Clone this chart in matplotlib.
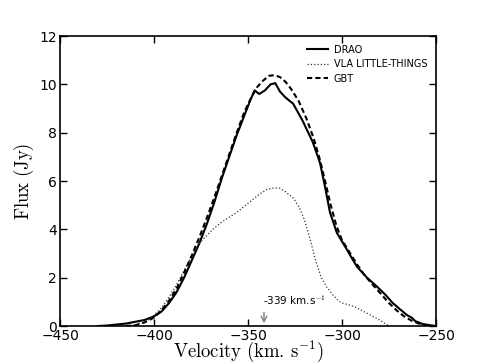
import numpy as np
import matplotlib
matplotlib.use("Agg")
import matplotlib.pyplot as plt

plt.rcParams['mathtext.fontset'] = 'cm'

# DRAO profile (solid)
drao_v = [-430, -425, -415, -405, -400, -396, -392, -388, -384, -380, -376, -372,
          -368, -364, -360, -356, -352, -349, -346.5, -344, -341, -338, -335.5,
          -333, -330, -326, -321, -315.5, -311.7, -309, -306.4, -302.7, -297.3,
          -294.7, -292, -286.7, -281, -277, -273, -270, -265.4, -263, -261,
          -257, -252, -250]
drao_f = [0.0, 0.02, 0.1, 0.25, 0.4, 0.6, 0.95, 1.4, 2.0, 2.7, 3.4, 4.2,
          5.1, 6.1, 7.0, 7.9, 8.7, 9.3, 9.75, 9.6, 9.75, 10.0, 10.05,
          9.7, 9.45, 9.2, 8.5, 7.6, 6.75, 5.75, 4.7, 3.85, 3.15,
          2.8, 2.45, 2.0, 1.6, 1.3, 0.95, 0.75, 0.45, 0.35, 0.2,
          0.08, 0.02, 0.0]

# VLA LITTLE-THINGS profile (dotted)
vla_v = [-415, -410, -404, -400, -396, -392, -388, -384, -380, -376, -372, -368,
         -364, -360, -356, -352, -348, -344, -340, -336, -333, -330, -326, -323,
         -320, -317, -314, -311, -308, -305, -302, -300, -296, -292, -288, -284,
         -280, -276, -275]
vla_f = [0.0, 0.05, 0.2, 0.45, 0.75, 1.2, 1.7, 2.3, 2.9, 3.4, 3.75, 4.05,
         4.3, 4.5, 4.7, 4.95, 5.2, 5.45, 5.65, 5.72, 5.7, 5.55, 5.3, 4.95,
         4.4, 3.6, 2.7, 2.0, 1.6, 1.3, 1.05, 0.95, 0.87, 0.75, 0.58, 0.42,
         0.25, 0.05, 0.0]

# GBT profile (dashed)
gbt_v = [-415, -410, -405, -400, -396, -392, -388, -384, -380, -376, -372, -368,
         -364, -360, -356, -352, -348, -345, -342, -339, -336, -333, -330, -327,
         -323, -319, -315, -312, -309, -306, -303, -300, -296, -292, -288, -283,
         -279, -275, -271, -267, -263, -259, -255, -252]
gbt_f = [0.0, 0.03, 0.15, 0.35, 0.65, 1.05, 1.55, 2.2, 2.9, 3.65, 4.45, 5.3,
         6.2, 7.1, 8.0, 8.85, 9.5, 9.9, 10.15, 10.35, 10.38, 10.3, 10.1, 9.8,
         9.3, 8.6, 7.75, 6.95, 6.0, 5.0, 4.15, 3.55, 3.05, 2.55, 2.1, 1.65,
         1.3, 0.95, 0.65, 0.4, 0.22, 0.1, 0.03, 0.0]

arrow_v = -341.5
arrow_label = r'-339 km.s$^{-1}$'

fig = plt.figure(figsize=(4.85, 3.63), dpi=100)
ax = fig.add_axes([0.1237, 0.1019, 0.7753, 0.7989])

ax.plot(drao_v, drao_f, color='black', lw=1.5, label='DRAO')
ax.plot(vla_v, vla_f, color='#333333', lw=0.9, ls=':', label='VLA LITTLE-THINGS')
ax.plot(gbt_v, gbt_f, color='black', lw=1.5, dashes=(2.5, 1.5), label='GBT')

ax.annotate('', xy=(arrow_v, 0), xytext=(arrow_v, 0.68),
            arrowprops=dict(arrowstyle='->', color='grey', lw=1))
ax.text(arrow_v - 0.5, 0.78, arrow_label, fontsize=7.5, ha='left', va='bottom')

ax.set_xlim(-450, -250)
ax.set_ylim(0, 12)
ax.set_xticks(np.arange(-450, -249, 50))
ax.set_yticks(np.arange(0, 13, 2))
ax.tick_params(direction='in', top=True, right=True, length=5, width=1,
               labelsize=10, pad=2)
for s in ax.spines.values():
    s.set_linewidth(1.2)

ax.set_xlabel(r'$\mathrm{Velocity\ (km.\,s^{-1})}$', fontsize=13.5)
ax.set_ylabel(r'$\mathrm{Flux\ (Jy)}$', fontsize=13.5)
ax.xaxis.set_label_coords(0.5, -0.045)
ax.yaxis.set_label_coords(-0.064, 0.5)

ax.legend(loc='upper right', frameon=False, fontsize=7, handlelength=2.2,
          borderaxespad=0.5, labelspacing=0.45, handletextpad=0.6)

fig.savefig('out.png', dpi=100)
